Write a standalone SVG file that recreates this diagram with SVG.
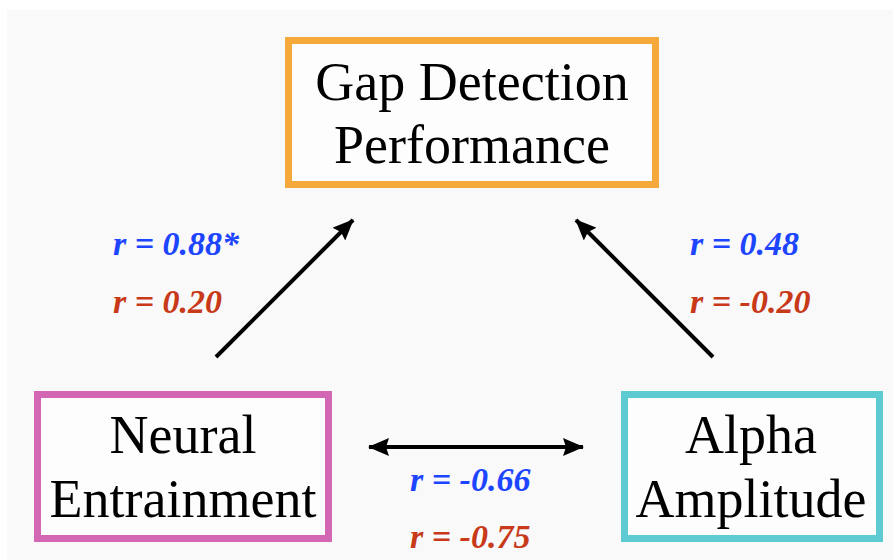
<svg xmlns="http://www.w3.org/2000/svg" width="893" height="560" viewBox="0 0 893 560">
<style>
.box{fill:#fdfdfd;stroke-width:7}
.lbl{font-family:"Liberation Serif","Times New Roman",serif;font-size:54px;fill:#000;text-anchor:middle}
.r{font-family:"Liberation Serif","Times New Roman",serif;font-size:34px;font-weight:bold;font-style:italic}
.b{fill:#1d44ff}
.d{fill:#c8391a}
.c{stroke:#000;stroke-width:4;fill:none}
</style>
<defs>
<marker id="ah" viewBox="0 0 21 18" refX="20" refY="9" markerWidth="21" markerHeight="18" markerUnits="userSpaceOnUse" orient="auto-start-reverse">
<path d="M0,0 L21,9 L0,18 L3,9 Z" fill="#000"/>
</marker>
</defs>
<rect width="893" height="560" fill="#ffffff"/>
<rect x="7" y="10" width="886" height="550" fill="#f9f9f9"/>
<g id="node-gap">
<rect class="box" x="288.5" y="40.5" width="367" height="144" stroke="#f5a93a"/>
<text class="lbl" x="472" y="100">Gap Detection</text>
<text class="lbl" x="472" y="163">Performance</text>
</g>
<g id="node-neural">
<rect class="box" x="37.5" y="394.5" width="291" height="144" stroke="#d467b4"/>
<text class="lbl" x="183" y="453">Neural</text>
<text class="lbl" x="183" y="517">Entrainment</text>
</g>
<g id="node-alpha">
<rect class="box" x="624.5" y="394.5" width="255" height="144" stroke="#5ecad1"/>
<text class="lbl" x="751" y="453">Alpha</text>
<text class="lbl" x="751" y="517">Amplitude</text>
</g>
<g id="connectors">
<line class="c" x1="216" y1="357" x2="353" y2="220" marker-end="url(#ah)"/>
<line class="c" x1="713" y1="357" x2="576" y2="220" marker-end="url(#ah)"/>
<line class="c" x1="369" y1="447" x2="583" y2="447" marker-start="url(#ah)" marker-end="url(#ah)"/>
</g>
<g id="labels">
<text class="r b" x="113" y="255">r = 0.88*</text>
<text class="r d" x="113" y="313">r = 0.20</text>
<text class="r b" x="690" y="255">r = 0.48</text>
<text class="r d" x="690" y="313">r = -0.20</text>
<text class="r b" x="410" y="491">r = -0.66</text>
<text class="r d" x="410" y="548">r = -0.75</text>
</g>
</svg>
